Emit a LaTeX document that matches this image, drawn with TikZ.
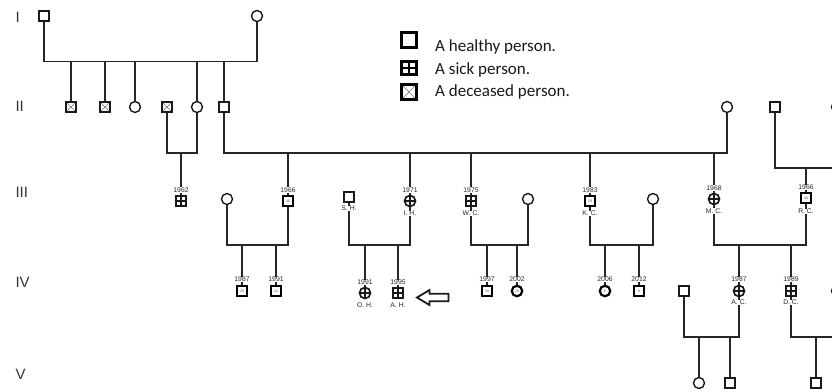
\documentclass[tikz,border=0pt]{standalone}
\usepackage{fontspec}
\setmainfont{Liberation Sans}
\newfontfamily\legfont{Carlito}
\usetikzlibrary{calc}
\begin{document}
\begin{tikzpicture}[x=1pt,y=-1pt,
  conn/.style={line width=1.4pt,draw=black!85},
  base/.style={draw=black!90,fill=white,inner sep=0pt,line width=1.4pt},
  hsq/.style={base,rectangle,minimum size=10pt},
  hci/.style={base,circle,minimum size=11pt},
  dsq/.style={hsq,path picture={\draw[black!55,line width=0.5pt]
     (path picture bounding box.north west) -- (path picture bounding box.south east)
     (path picture bounding box.north east) -- (path picture bounding box.south west);}},
  crossx/.style={path picture={\draw[black!90,line width=1.2pt]
     (path picture bounding box.north) -- (path picture bounding box.south)
     (path picture bounding box.east) -- (path picture bounding box.west);}},
  ssq/.style={hsq,line width=1.7pt,crossx},
  sci/.style={hci,line width=1.7pt,crossx},
  agetxt/.style={inner sep=0pt,font=\fontsize{3.6}{4}\selectfont,text=black!65},
  asq/.style={draw=black,fill=white,rectangle,inner sep=0pt,minimum size=10pt,line width=2.2pt},
  aci/.style={draw=black,fill=white,circle,inner sep=0pt,minimum size=10.5pt,line width=2.2pt},
  yr/.style={fill=white,inner sep=0.4pt,font=\fontsize{6.8}{7}\selectfont,text=black!85},
  nm/.style={fill=white,inner sep=0.4pt,font=\fontsize{6.8}{7}\selectfont,text=black!85},
  gen/.style={anchor=west,font=\fontsize{15}{15}\selectfont,text=black!80},
  legbox/.style={draw=black,fill=white,inner sep=0pt,line width=2.6pt,minimum size=15pt,rectangle},
  legtxt/.style={anchor=base west,font=\legfont\fontsize{17}{17}\selectfont,text=black!90,inner sep=0pt}
]
\useasboundingbox (0,0) rectangle (832,391);
\clip (0,0) rectangle (832,391);

% generation labels
\node[gen] (gI) at (12,17) {I};
\node[gen] (gII) at (12,106) {II};
\node[gen] (gIII) at (12,192) {III};
\node[gen] (gIV) at (12,282) {IV};
\node[gen] (gV) at (12,374) {V};

% legend
\node[legbox] (l1) at (409,40) {};
\node[legbox,minimum width=15pt,minimum height=13pt,
  path picture={\draw[black,line width=2.4pt]
     (path picture bounding box.north) -- (path picture bounding box.south)
     (path picture bounding box.east) -- (path picture bounding box.west);}] (l2) at (409,68) {};
\node[legbox,line width=2.3pt,path picture={\draw[black!55,line width=0.6pt]
     (path picture bounding box.north west) -- (path picture bounding box.south east)
     (path picture bounding box.north east) -- (path picture bounding box.south west);}] (l3) at (409,92) {};
\node[legtxt] (t1) at (435,51) {A healthy person.};
\node[legtxt] (t2) at (435,74) {A sick person.};
\node[legtxt] (t3) at (435,96.5) {A deceased person.};

% Gen I
\node[hsq] (p1) at (44,16) {};
\node[hci] (p2) at (257,16) {};
\coordinate (m1) at (150,61.5);
% Gen II
\node[dsq] (p3) at (71,107) {};
\node[dsq] (p4) at (105,107) {};
\node[hci] (p5) at (135,107) {};
\node[dsq] (p6) at (167,107) {};
\node[hci] (p7) at (197,107) {};
\node[hsq] (p8) at (224,107) {};
\node[hci] (p9) at (727,107) {};
\node[hsq] (p10) at (775,107) {};
\node[hci] (p11) at (837,107) {};
\coordinate (m2) at (181,153);
\coordinate (m3) at (470,153);
\coordinate (m4) at (806,168);
% Gen III
\node[ssq] (p12) at (181,201) {};
\node[hci] (p13) at (227,199) {};
\node[asq] (p14) at (288,201) {};
\node[hsq] (p15) at (349,197) {};
\node[sci] (p16) at (410,201) {};
\node[ssq] (p17) at (471,201) {};
\node[hci] (p18) at (528,199) {};
\node[asq] (p19) at (590,201) {};
\node[hci] (p20) at (653,199) {};
\node[sci] (p21) at (714,199) {};
\node[asq] (p22) at (806,198) {};
\coordinate (m5) at (257,245);
\coordinate (m6) at (380,245);
\coordinate (m7) at (500,245);
\coordinate (m8) at (620,245);
\coordinate (m9) at (760,245);
% Gen IV
\node[asq] (p23) at (242,291) {};
\node[asq] (p24) at (276,291) {};
\node[sci] (p25) at (365,293) {};
\node[ssq] (p26) at (398,293) {};
\node[asq] (p27) at (487,291) {};
\node[aci] (p28) at (517,291) {};
\node[aci] (p29) at (605,291) {};
\node[asq] (p30) at (639,291) {};
\node[hsq] (p31) at (684,291) {};
\node[sci] (p32) at (739,291) {};
\node[ssq] (p33) at (791,291) {};
\node[hci] (p34) at (837,291) {};
\coordinate (m10) at (711,337);
\coordinate (m11) at (814,337);
% Gen V
\node[hci] (p35) at (699,383) {};
\node[hsq] (p36) at (730,383) {};
\node[hsq] (p37) at (816,383) {};

% age numbers inside symbols
\node[agetxt] (a14) at (p14) {46};
\node[agetxt] (a19) at (p19) {29};
\node[agetxt] (a22) at (p22) {46};
\node[agetxt] (a23) at (p23) {25};
\node[agetxt] (a24) at (p24) {21};
\node[agetxt] (a27) at (p27) {15};
\node[agetxt] (a28) at (p28) {10};
\node[agetxt] (a29) at (p29) {6};
\node[agetxt] (a30) at (p30) {0};

% connectors
\draw[conn] (p1.south) |- (m1) -| (p2.south);
\foreach \c in {p3,p4,p5,p7,p8} \draw[conn] (\c |- m1) -- (\c.north);
\draw[conn] (p6.south) |- (m2) -| (p7.south);
\draw[conn] (p12 |- m2) -- (p12.north);
\draw[conn] (p8.south) |- (m3) -| (p9.south);
\foreach \c in {p14,p16,p17,p19,p21} \draw[conn] (\c |- m3) -- (\c.north);
\draw[conn] (p10.south) |- (m4) -| (p11.south);
\draw[conn] (p22 |- m4) -- (p22.north);
\draw[conn] (p13.south) |- (m5) -| (p14.south);
\foreach \c in {p23,p24} \draw[conn] (\c |- m5) -- (\c.north);
\draw[conn] (p15.south) |- (m6) -| (p16.south);
\foreach \c in {p25,p26} \draw[conn] (\c |- m6) -- (\c.north);
\draw[conn] (p17.south) |- (m7) -| (p18.south);
\foreach \c in {p27,p28} \draw[conn] (\c |- m7) -- (\c.north);
\draw[conn] (p19.south) |- (m8) -| (p20.south);
\foreach \c in {p29,p30} \draw[conn] (\c |- m8) -- (\c.north);
\draw[conn] (p21.south) |- (m9) -| (p22.south);
\foreach \c in {p32,p33} \draw[conn] (\c |- m9) -- (\c.north);
\draw[conn] (p31.south) |- (m10) -| (p32.south);
\foreach \c in {p35,p36} \draw[conn] (\c |- m10) -- (\c.north);
\draw[conn] (p33.south) |- (m11) -| (p34.south);
\draw[conn] (p37 |- m11) -- (p37.north);

% years and names
\node[yr] (y12) at (181,190) {1962};
\node[yr] (y14) at (288,190) {1966};
\node[yr] (y16) at (410,190) {1971};
\node[yr] (y17) at (471,190) {1975};
\node[yr] (y19) at (590,190) {1983};
\node[yr] (y21) at (714,188) {1968};
\node[yr] (y22) at (806,187.5) {1966};
\node[nm] (n15) at (349,208.5) {S. H.};
\node[nm] (n16) at (410,213.5) {I. H.};
\node[nm] (n17) at (471,213.5) {W. C.};
\node[nm] (n19) at (590,213.5) {K. C.};
\node[nm] (n21) at (714,211) {M. C.};
\node[nm] (n22) at (806,211.5) {R. C.};
\node[yr] (y23) at (242,279.5) {1987};
\node[yr] (y24) at (276,279.5) {1991};
\node[yr] (y25) at (365,282.5) {1991};
\node[yr] (y26) at (398,282.5) {1995};
\node[yr] (y27) at (487,279.5) {1997};
\node[yr] (y28) at (517,279.5) {2002};
\node[yr] (y29) at (605,279.5) {2006};
\node[yr] (y30) at (639,279.5) {2012};
\node[yr] (y32) at (739,279.5) {1987};
\node[yr] (y33) at (791,279.5) {1989};
\node[nm] (n25) at (365,305.5) {O. H.};
\node[nm] (n26) at (398,305.5) {A. H.};
\node[nm] (n32) at (739,302.5) {A. C.};
\node[nm] (n33) at (791,302.5) {D. C.};

% pointer arrow
\draw[line width=1.8pt,black!90,line join=miter] (417,297.5) -- (429.5,290) -- (429.5,293.8) -- (448.5,293.8) -- (448.5,301.2) -- (429.5,301.2) -- (429.5,305) -- cycle;
\end{tikzpicture}
\end{document}
